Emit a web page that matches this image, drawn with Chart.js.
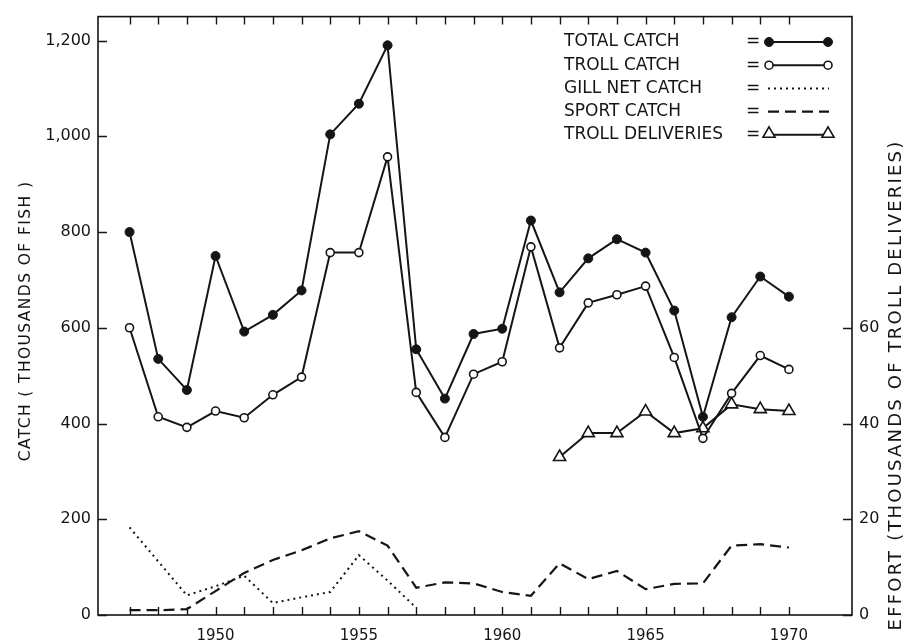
<!DOCTYPE html>
<html>
<head>
<meta charset="utf-8">
<script src="https://cdn.jsdelivr.net/npm/chart.js@4.4.0/dist/chart.umd.min.js"></script>
<style>
  html, body { margin: 0; padding: 0; background: #fff; }
</style>
</head>
<body>
<canvas id="catchChart" width="909" height="643"></canvas>
<script>
// years on the x axis
const years = [1947, 1948, 1949, 1950, 1951, 1952, 1953, 1954, 1955, 1956, 1957, 1958,
               1959, 1960, 1961, 1962, 1963, 1964, 1965, 1966, 1967, 1968, 1969, 1970];
// catch in thousands of fish
const totalCatch = [800, 535, 470, 750, 592, 627, 678, 1004, 1068, 1190, 555, 452,
                    587, 598, 824, 674, 745, 785, 757, 636, 414, 622, 707, 665];
const trollCatch = [600, 414, 392, 426, 412, 460, 497, 757, 757, 957, 465, 371,
                    503, 529, 769, 558, 652, 669, 687, 538, 369, 463, 542, 513];
const sportCatch = [10, 10, 12, 50, 88, 115, 135, 160, 175, 145, 57, 68,
                    66, 48, 40, 108, 75, 92, 54, 65, 66, 145, 148, 141];
// gill net catch only reported up to 1957
const gillYears = [1947, 1948, 1949, 1950, 1951, 1952, 1953, 1954, 1955, 1956, 1957];
const gillNetCatch = [183, 112, 41, 60, 82, 25, 37, 48, 125, 72, 15];
// effort, thousands of troll deliveries (right axis)
const deliveryYears = [1962, 1963, 1964, 1965, 1966, 1967, 1968, 1969, 1970];
const trollDeliveries = [33, 38, 38, 42.5, 38, 39, 44, 43, 42.6];

const yearLabels = [1950, 1955, 1960, 1965, 1970];
const catchTicks = [0, 200, 400, 600, 800, 1000, 1200];
const effortTicks = [0, 20, 40, 60];

const ink = '#151515';
const pts = (xs, ys) => xs.map((x, i) => ({ x: x, y: ys[i] }));

// cuadro, marcas hacia dentro, titulos de ejes y leyenda
const framePlugin = {
  id: 'framePlugin',
  afterDraw(chart) {
    const { ctx, chartArea: a, scales } = chart;
    ctx.save();
    ctx.strokeStyle = ink;
    ctx.fillStyle = ink;
    ctx.lineWidth = 1.6;
    ctx.strokeRect(a.left, a.top, a.right - a.left, a.bottom - a.top);

    ctx.lineWidth = 1.4;
    ctx.beginPath();
    years.forEach(yr => {
      const x = Math.round(scales.x.getPixelForValue(yr)) + 0.5;
      ctx.moveTo(x, a.bottom); ctx.lineTo(x, a.bottom - 8);
      ctx.moveTo(x, a.top); ctx.lineTo(x, a.top + 8);
    });
    catchTicks.forEach(v => {
      const y = Math.round(scales.y.getPixelForValue(v)) + 0.5;
      ctx.moveTo(a.left, y); ctx.lineTo(a.left + 9, y);
    });
    effortTicks.forEach(v => {
      const y = Math.round(scales.y2.getPixelForValue(v)) + 0.5;
      ctx.moveTo(a.right, y); ctx.lineTo(a.right - 9, y);
    });
    ctx.stroke();

    // axis titles, both read bottom to top
    ctx.textAlign = 'center';
    ctx.textBaseline = 'middle';
    ctx.font = '15.5px "DejaVu Sans"';
    ctx.letterSpacing = '1.4px';
    ctx.save();
    ctx.translate(26, 321);
    ctx.rotate(-Math.PI / 2);
    ctx.fillText('CATCH ( THOUSANDS OF FISH )', 0, 0);
    ctx.restore();
    ctx.font = '18px "DejaVu Sans"';
    ctx.letterSpacing = '2.2px';
    ctx.save();
    ctx.translate(896, 385);
    ctx.rotate(-Math.PI / 2);
    ctx.fillText('EFFORT (THOUSANDS OF TROLL DELIVERIES)', 0, 0);
    ctx.restore();
    ctx.letterSpacing = '0px';

    // legend
    ctx.font = '17px "DejaVu Sans"';
    ctx.textAlign = 'left';
    chart.data.datasets.forEach((ds, i) => {
      const y = 42 + i * 23.2;
      ctx.fillStyle = ink;
      ctx.fillText(ds.label, 564, y);
      ctx.fillText('=', 746, y);
      ctx.save();
      ctx.lineWidth = ds.borderWidth;
      ctx.setLineDash(ds.borderDash || []);
      ctx.beginPath();
      ctx.moveTo(768, y); ctx.lineTo(829, y);
      ctx.stroke();
      ctx.restore();
      if (ds.pointRadius > 0) {
        [769, 828].forEach(x => {
          ctx.fillStyle = ds.pointBackgroundColor;
          ctx.strokeStyle = ds.pointBorderColor;
          ctx.lineWidth = ds.pointBorderWidth;
          Chart.helpers.drawPoint(ctx, {
            pointStyle: ds.pointStyle || 'circle',
            radius: ds.pointRadius,
            rotation: 0,
            borderWidth: ds.pointBorderWidth
          }, x, ds.pointStyle === 'triangle' ? y - 1 : y);
        });
      }
    });
    ctx.restore();
  }
};

const ctx = document.getElementById('catchChart').getContext('2d');
new Chart(ctx, {
  type: 'line',
  data: {
    datasets: [
      {
        label: 'TOTAL CATCH',
        data: pts(years, totalCatch),
        borderColor: ink, borderWidth: 2,
        pointRadius: 4.5, pointBackgroundColor: ink, pointBorderColor: ink, pointBorderWidth: 1
      },
      {
        label: 'TROLL CATCH',
        data: pts(years, trollCatch),
        borderColor: ink, borderWidth: 2,
        pointRadius: 4, pointBackgroundColor: '#fff', pointBorderColor: ink, pointBorderWidth: 1.6
      },
      {
        label: 'GILL NET CATCH',
        data: pts(gillYears, gillNetCatch),
        borderColor: ink, borderWidth: 2, borderDash: [2, 4],
        pointRadius: 0
      },
      {
        label: 'SPORT CATCH',
        data: pts(years, sportCatch),
        borderColor: ink, borderWidth: 2.2, borderDash: [11, 6],
        pointRadius: 0
      },
      {
        label: 'TROLL DELIVERIES',
        data: pts(deliveryYears, trollDeliveries),
        yAxisID: 'y2',
        borderColor: ink, borderWidth: 2,
        pointStyle: 'triangle', pointRadius: 7,
        pointBackgroundColor: '#fff', pointBorderColor: ink, pointBorderWidth: 1.6
      }
    ]
  },
  options: {
    responsive: false,
    devicePixelRatio: 1,
    animation: false,
    layout: { padding: { top: 13, left: 0, right: 0, bottom: 0 } },
    elements: { line: { tension: 0, fill: false } },
    plugins: { legend: { display: false }, tooltip: { enabled: false } },
    scales: {
      x: {
        type: 'linear',
        min: 1945.9,
        max: 1972.2,
        afterBuildTicks: s => { s.ticks = yearLabels.map(v => ({ value: v })); },
        afterFit: s => { s.height = 28; },
        grid: { display: false, drawTicks: false },
        border: { display: false },
        ticks: {
          color: ink, padding: 12, maxRotation: 0, autoSkip: false,
          font: { family: '"DejaVu Sans"', size: 15 },
          callback: v => String(v)
        }
      },
      y: {
        position: 'left',
        min: 0,
        max: 1250,
        afterBuildTicks: s => { s.ticks = catchTicks.map(v => ({ value: v })); },
        afterFit: s => { s.width = 98; },
        grid: { display: false, drawTicks: false },
        border: { display: false },
        ticks: {
          color: ink, padding: 7,
          font: { family: '"DejaVu Sans"', size: 16 },
          callback: v => v.toLocaleString('en-US')
        }
      },
      y2: {
        position: 'right',
        min: 0,
        max: 125,
        afterBuildTicks: s => { s.ticks = effortTicks.map(v => ({ value: v })); },
        afterFit: s => { s.width = 57; },
        grid: { display: false, drawTicks: false },
        border: { display: false },
        ticks: {
          color: ink, padding: 7,
          font: { family: '"DejaVu Sans"', size: 16 },
          callback: v => String(v)
        }
      }
    }
  },
  plugins: [framePlugin]
});
</script>
</body>
</html>
